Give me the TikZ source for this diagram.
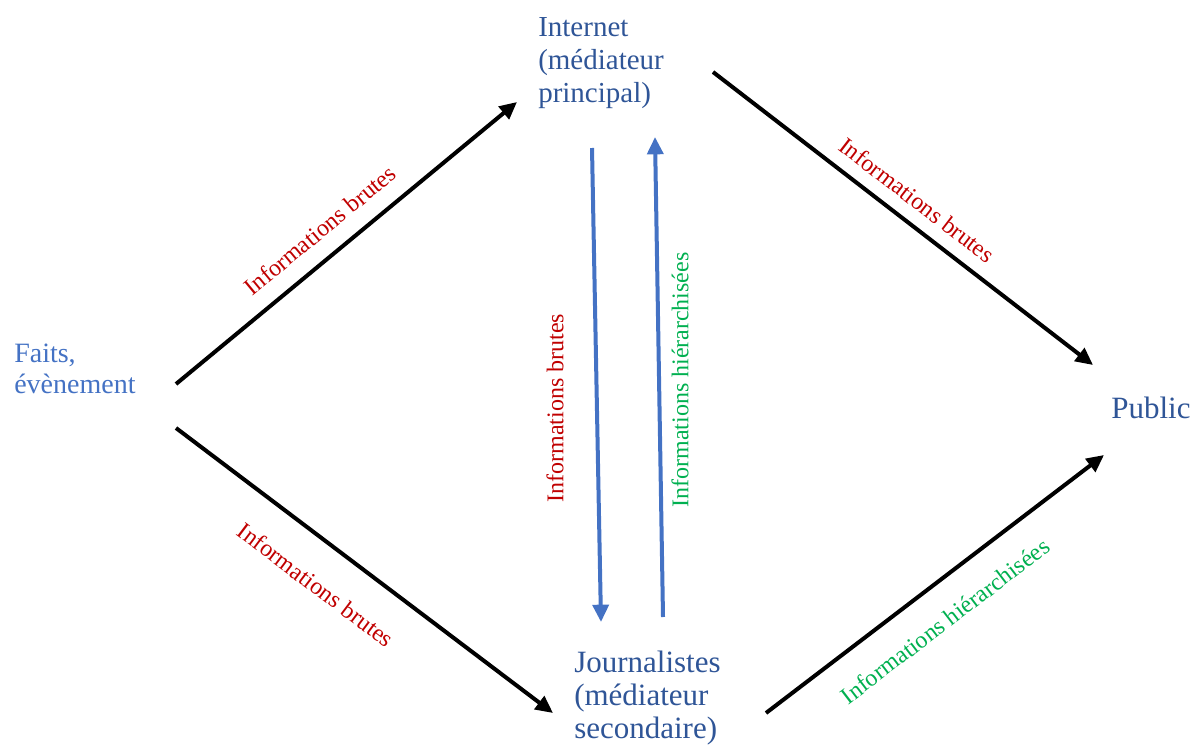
\documentclass[tikz,border=0pt]{standalone}
\usepackage{fontspec}
\setmainfont{Liberation Serif}
\usetikzlibrary{arrows.meta}
\definecolor{nodeblue}{HTML}{2F5597}
\definecolor{faitsblue}{HTML}{4472C4}
\definecolor{infored}{HTML}{C00000}
\definecolor{infogreen}{HTML}{00B050}
\tikzset{
  actor/.style={inner sep=0pt, anchor=base west, align=left, text=nodeblue},
  info/.style={inner sep=0pt, font=\fontsize{18}{20}\selectfont},
  flow/.style={line width=3pt, -{Triangle[length=13pt,width=12pt]}},
}
\begin{document}
\begin{tikzpicture}[x=0.75pt,y=-0.75pt]
\useasboundingbox (0,0) rectangle (1195,749);
% acteurs
\draw (14,393) node[actor,text=faitsblue,font=\fontsize{21}{23.25}\selectfont](faits) {Faits,\\évènement};
\draw (538,103) node[actor,font=\fontsize{21.75}{25}\selectfont](internet) {Internet\\(médiateur\\principal)};
\draw (574,738) node[actor,font=\fontsize{23.25}{24.4}\selectfont](journalistes) {Journalistes\\(médiateur\\secondaire)};
\draw (1111,418) node[actor,font=\fontsize{23.25}{24.4}\selectfont](public) {Public};
% points d'attache des fleches
\coordinate (f1) at (176,384);
\coordinate (f2) at (176,428);
\coordinate (i1) at (517,102);
\coordinate (i2) at (713,72);
\coordinate (i3) at (592,148);
\coordinate (i4) at (655,137);
\coordinate (j1) at (553,713);
\coordinate (j2) at (766,713);
\coordinate (j3) at (601,622);
\coordinate (j4) at (663,617);
\coordinate (p1) at (1093,365);
\coordinate (p2) at (1104,455);
% fleches
\draw[flow] (f1) -- (i1);
\draw[flow] (f2) -- (j1);
\draw[flow] (i2) -- (p1);
\draw[flow] (j2) -- (p2);
\draw[flow,faitsblue] (i3) -- (j3);
\draw[flow,faitsblue] (j4) -- (i4);
% etiquettes
\draw (320,230) node[info,text=infored,rotate=39.6](fi) {Informations brutes};
\draw (316,585) node[info,text=infored,rotate=-37](fj) {Informations brutes};
\draw (917,200) node[info,text=infored,rotate=-37.6](ip) {Informations brutes};
\draw (945,621) node[info,text=infogreen,rotate=37.4](jp) {Informations hiérarchisées};
\draw (555,408) node[info,text=infored,rotate=90](ij) {Informations brutes};
\draw (680,380) node[info,text=infogreen,rotate=90](ji) {Informations hiérarchisées};
\end{tikzpicture}
\end{document}
